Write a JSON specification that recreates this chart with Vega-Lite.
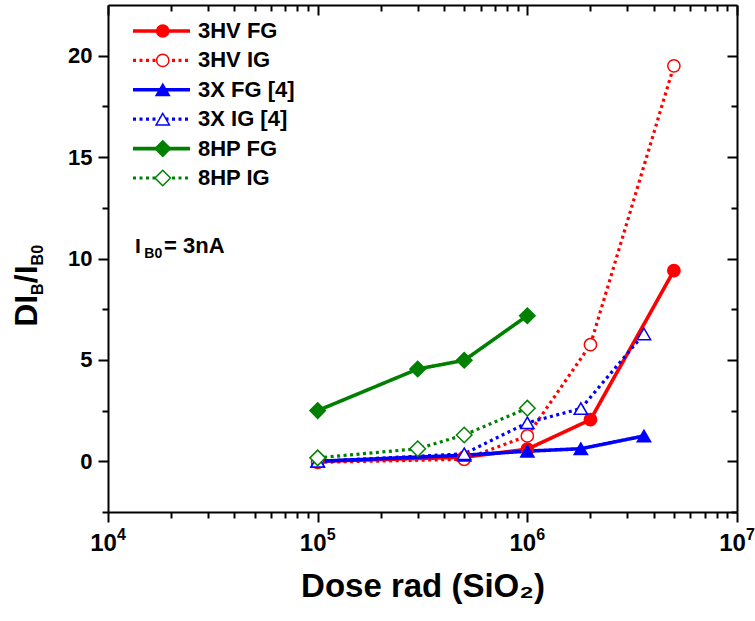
{
  "$schema": "https://vega.github.io/schema/vega-lite/v6.json",
  "autosize": "none",
  "width": 629,
  "height": 507,
  "padding": {"left": 108, "top": 5, "right": 18, "bottom": 109},
  "background": "white",
  "config": {
    "view": {"stroke": null},
    "axis": {"grid": false, "domainColor": "black", "domainWidth": 2, "tickColor": "black", "tickWidth": 2,
      "labelFont": "Liberation Sans", "labelFontWeight": "bold", "labelColor": "black", "labelFontSize": 21,
      "titleFont": "Liberation Sans", "titleFontWeight": "bold", "titleColor": "black"},
    "legend": {"padding": 0, "title": null, "clipHeight": 22, "rowPadding": 7.4, "labelFontSize": 22,
      "labelFont": "Liberation Sans", "labelFontWeight": "bold", "labelColor": "black", "labelLimit": 300},
    "font": "Liberation Sans"
  },
  "data": {"values": [
    {"series": "3HV FG", "dose": 100000, "ratio": 0},
    {"series": "3HV FG", "dose": 500000, "ratio": 0.2},
    {"series": "3HV FG", "dose": 1000000, "ratio": 0.6},
    {"series": "3HV FG", "dose": 2000000, "ratio": 2.05},
    {"series": "3HV FG", "dose": 5000000, "ratio": 9.4},
    {"series": "3HV IG", "dose": 100000, "ratio": -0.05},
    {"series": "3HV IG", "dose": 500000, "ratio": 0.1},
    {"series": "3HV IG", "dose": 1000000, "ratio": 1.25},
    {"series": "3HV IG", "dose": 2000000, "ratio": 5.75},
    {"series": "3HV IG", "dose": 5000000, "ratio": 19.5},
    {"series": "3X FG [4]", "dose": 100000, "ratio": 0},
    {"series": "3X FG [4]", "dose": 500000, "ratio": 0.3},
    {"series": "3X FG [4]", "dose": 1000000, "ratio": 0.5},
    {"series": "3X FG [4]", "dose": 1800000, "ratio": 0.62},
    {"series": "3X FG [4]", "dose": 3600000, "ratio": 1.25},
    {"series": "3X IG [4]", "dose": 100000, "ratio": 0},
    {"series": "3X IG [4]", "dose": 500000, "ratio": 0.37},
    {"series": "3X IG [4]", "dose": 1000000, "ratio": 1.9},
    {"series": "3X IG [4]", "dose": 1800000, "ratio": 2.6},
    {"series": "3X IG [4]", "dose": 3600000, "ratio": 6.28},
    {"series": "8HP FG", "dose": 100000, "ratio": 2.5},
    {"series": "8HP FG", "dose": 300000, "ratio": 4.55},
    {"series": "8HP FG", "dose": 500000, "ratio": 4.98},
    {"series": "8HP FG", "dose": 1000000, "ratio": 7.18},
    {"series": "8HP IG", "dose": 100000, "ratio": 0.17},
    {"series": "8HP IG", "dose": 300000, "ratio": 0.62},
    {"series": "8HP IG", "dose": 500000, "ratio": 1.3},
    {"series": "8HP IG", "dose": 1000000, "ratio": 2.62}
  ]},
  "resolve": {"axis": {"x": "independent", "y": "independent"}},
  "layer": [
    {
      "mark": {"type": "line", "strokeJoin": "round"},
      "encoding": {
        "x": {"field": "dose", "type": "quantitative", "scale": {"type": "log", "domain": [10000, 10000000], "nice": false},
          "axis": {"orient": "bottom", "values": [10000, 100000, 1000000, 10000000], "tickSize": 10, "labelPadding": 9,
            "labelFontSize": 24, "labelOffset": -5, "labelFlush": false, "labelOverlap": false, "labelAlign": "center", "labelExpr": "'10'",
            "title": "Dose rad (SiO₂)", "titleFontSize": 33, "titlePadding": 15}},
        "y": {"field": "ratio", "type": "quantitative", "scale": {"domain": [-2.5, 22.5], "nice": false, "zero": false},
          "axis": {"orient": "left", "values": [0, 5, 10, 15, 20], "tickSize": 10, "labelPadding": 6, "labelFontSize": 22, "title": null}},
        "color": {"field": "series", "type": "nominal",
          "scale": {"domain": ["3HV FG", "3HV IG", "3X FG [4]", "3X IG [4]", "8HP FG", "8HP IG"],
            "range": ["#ff0000", "#ff0000", "#0000ff", "#0000ff", "#008000", "#008000"]},
          "legend": {"orient": "none", "legendX": 23, "legendY": 15, "symbolType": "stroke", "symbolSize": 3249, "labelOffset": 6}},
        "strokeDash": {"field": "series", "type": "nominal",
          "scale": {"domain": ["3HV FG", "3HV IG", "3X FG [4]", "3X IG [4]", "8HP FG", "8HP IG"],
            "range": [[1, 0], [3, 3.5], [1, 0], [3, 3.5], [1, 0], [3, 3.5]]}},
        "strokeWidth": {"field": "series", "type": "nominal",
          "scale": {"type": "ordinal", "domain": ["3HV FG", "3HV IG", "3X FG [4]", "3X IG [4]", "8HP FG", "8HP IG"],
            "range": [3.6, 3.2, 3.6, 3.2, 3.6, 3.2]}}
      }
    },
    {
      "mark": {"type": "point", "opacity": 1, "strokeWidth": 1.5},
      "encoding": {
        "x": {"field": "dose", "type": "quantitative",
          "axis": {"orient": "bottom", "values": [20000, 30000, 40000, 50000, 60000, 70000, 80000, 90000, 200000, 300000, 400000, 500000, 600000, 700000, 800000, 900000, 2000000, 3000000, 4000000, 5000000, 6000000, 7000000, 8000000, 9000000],
            "tickSize": 6, "labels": false, "domain": false, "title": null}},
        "y": {"field": "ratio", "type": "quantitative",
          "axis": {"orient": "left", "values": [-2.5, 2.5, 7.5, 12.5, 17.5], "tickSize": 6, "labels": false, "domain": false, "title": null}},
        "shape": {"field": "series", "type": "nominal",
          "scale": {"range": ["circle", "circle", "triangle-up", "triangle-up", "diamond", "diamond"]},
          "legend": {"orient": "none", "legendX": 43.75, "legendY": 15, "labelExpr": "''", "symbolStrokeWidth": 1.5}},
        "fill": {"field": "series", "type": "nominal",
          "scale": {"range": ["#ff0000", "#ffffff", "#0000ff", "#ffffff", "#008000", "#ffffff"]}},
        "stroke": {"field": "series", "type": "nominal",
          "scale": {"range": ["#ff0000", "#ff0000", "#0000ff", "#0000ff", "#008000", "#008000"]}},
        "size": {"field": "series", "type": "nominal",
          "scale": {"type": "ordinal", "range": [150, 150, 177, 177, 240, 240]}}
      }
    },
    {
      "mark": {"type": "point", "opacity": 0},
      "encoding": {
        "x": {"field": "dose", "type": "quantitative",
          "axis": {"orient": "top", "values": [10000, 100000, 1000000, 10000000], "tickSize": -10, "labels": false, "title": null}},
        "y": {"field": "ratio", "type": "quantitative",
          "axis": {"orient": "right", "values": [0, 5, 10, 15, 20], "tickSize": -10, "labels": false, "title": null}}
      }
    },
    {
      "mark": {"type": "point", "opacity": 0},
      "encoding": {
        "x": {"field": "dose", "type": "quantitative",
          "axis": {"orient": "top", "values": [20000, 30000, 40000, 50000, 60000, 70000, 80000, 90000, 200000, 300000, 400000, 500000, 600000, 700000, 800000, 900000, 2000000, 3000000, 4000000, 5000000, 6000000, 7000000, 8000000, 9000000],
            "tickSize": -6, "labels": false, "domain": false, "title": null}},
        "y": {"field": "ratio", "type": "quantitative",
          "axis": {"orient": "right", "values": [-2.5, 2.5, 7.5, 12.5, 17.5], "tickSize": -6, "labels": false, "domain": false, "title": null}}
      }
    },
    {
      "data": {"values": [
        {"tick": 10000, "exponent": "4"},
        {"tick": 100000, "exponent": "5"},
        {"tick": 1000000, "exponent": "6"},
        {"tick": 10000000, "exponent": "7"}
      ]},
      "mark": {"type": "text", "align": "left", "baseline": "top", "dx": 9, "dy": 15, "font": "Liberation Sans", "fontWeight": "bold", "fontSize": 16, "color": "black"},
      "encoding": {
        "x": {"field": "tick", "type": "quantitative", "axis": null},
        "y": {"datum": -2.5, "type": "quantitative", "axis": null},
        "text": {"field": "exponent"}
      }
    },
    {
      "data": {"values": [{}]},
      "mark": {"type": "text", "align": "left", "baseline": "alphabetic", "font": "Liberation Sans", "fontWeight": "bold", "fontSize": 21, "color": "black"},
      "encoding": {
        "x": {"datum": 13456, "type": "quantitative", "axis": null},
        "y": {"datum": 10.28, "type": "quantitative", "axis": null},
        "text": {"value": "I"}
      }
    },
    {
      "data": {"values": [{}]},
      "mark": {"type": "text", "align": "left", "baseline": "alphabetic", "font": "Liberation Sans", "fontWeight": "bold", "fontSize": 14, "color": "black"},
      "encoding": {
        "x": {"datum": 14900, "type": "quantitative", "axis": null},
        "y": {"datum": 10.03, "type": "quantitative", "axis": null},
        "text": {"value": "B0"}
      }
    },
    {
      "data": {"values": [{}]},
      "mark": {"type": "text", "align": "left", "baseline": "alphabetic", "font": "Liberation Sans", "fontWeight": "bold", "fontSize": 22, "color": "black"},
      "encoding": {
        "x": {"datum": 18500, "type": "quantitative", "axis": null},
        "y": {"datum": 10.28, "type": "quantitative", "axis": null},
        "text": {"value": "= 3nA"}
      }
    },
    {
      "data": {"values": [{}]},
      "mark": {"type": "text", "align": "left", "baseline": "alphabetic", "angle": 270, "font": "Liberation Sans", "fontWeight": "bold", "fontSize": 32, "color": "black"},
      "encoding": {
        "x": {"datum": 4585, "type": "quantitative", "axis": null},
        "y": {"datum": 6.635, "type": "quantitative", "axis": null},
        "text": {"value": "DI"}
      }
    },
    {
      "data": {"values": [{}]},
      "mark": {"type": "text", "align": "left", "baseline": "alphabetic", "angle": 270, "font": "Liberation Sans", "fontWeight": "bold", "fontSize": 16, "color": "black"},
      "encoding": {
        "x": {"datum": 4898, "type": "quantitative", "axis": null},
        "y": {"datum": 8.2, "type": "quantitative", "axis": null},
        "text": {"value": "B"}
      }
    },
    {
      "data": {"values": [{}]},
      "mark": {"type": "text", "align": "left", "baseline": "alphabetic", "angle": 270, "font": "Liberation Sans", "fontWeight": "bold", "fontSize": 32, "color": "black"},
      "encoding": {
        "x": {"datum": 4585, "type": "quantitative", "axis": null},
        "y": {"datum": 8.783, "type": "quantitative", "axis": null},
        "text": {"value": "/I"}
      }
    },
    {
      "data": {"values": [{}]},
      "mark": {"type": "text", "align": "left", "baseline": "alphabetic", "angle": 270, "font": "Liberation Sans", "fontWeight": "bold", "fontSize": 16, "color": "black"},
      "encoding": {
        "x": {"datum": 4898, "type": "quantitative", "axis": null},
        "y": {"datum": 9.66, "type": "quantitative", "axis": null},
        "text": {"value": "B0"}
      }
    }
  ]
}
